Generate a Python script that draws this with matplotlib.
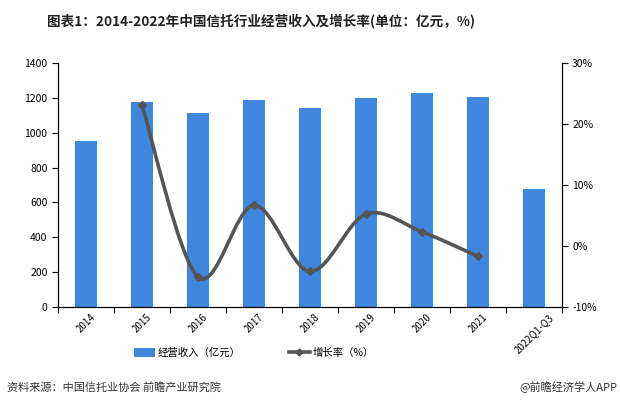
import matplotlib
matplotlib.use("Agg")
import matplotlib.pyplot as plt
from matplotlib.path import Path
from matplotlib.patches import PathPatch, Patch
from matplotlib.lines import Line2D
from matplotlib.ticker import FuncFormatter, FixedLocator

plt.rcParams['font.family'] = ['Noto Sans CJK SC', 'DejaVu Sans']

# data
years = ['2014', '2015', '2016', '2017', '2018', '2019', '2020', '2021', '2022Q1-Q3']
revenue = [954.95, 1176.06, 1116.16, 1190.69, 1140.63, 1200.12, 1228.05, 1207.1, 680.0]
growth_years = ['2015', '2016', '2017', '2018', '2019', '2020', '2021']
growth = [23.15, -5.09, 6.68, -4.20, 5.22, 2.33, -1.71]

bar_color = '#3F86DE'
line_color = '#555555'

fig = plt.figure(figsize=(6.2, 4.09), dpi=100)
ax = fig.add_axes([0.0935, 0.25, 0.8125, 0.595])
ax2 = ax.twinx()

x = list(range(len(years)))
ax.bar(x, revenue, width=0.39, color=bar_color, zorder=2)
ax.set_xlim(-0.5, len(years) - 0.5)
ax.set_ylim(0, 1400)
ax.set_yticks(range(0, 1401, 200))

# category boundary ticks, labels at centres
ax.xaxis.set_major_locator(FixedLocator([i + 0.5 for i in range(-1, len(years))]))
ax.set_xticklabels([])
ax.set_xticks(x, minor=True)
ax.set_xticklabels(years, minor=True, rotation=45, fontsize=7)
ax.tick_params(axis='x', which='minor', length=0, pad=4)
ax.tick_params(axis='x', which='major', length=4, width=0.8)
ax.tick_params(axis='y', labelsize=7.5, length=4, width=0.8)

# smoothed growth line (Catmull-Rom style bezier, like Excel smoothing)
gx = [years.index(y) for y in growth_years]
pts = list(zip(gx, growth))
verts = [pts[0]]
codes = [Path.MOVETO]
for i in range(len(pts) - 1):
    p0 = pts[i - 1] if i > 0 else pts[i]
    p1 = pts[i]
    p2 = pts[i + 1]
    p3 = pts[i + 2] if i + 2 < len(pts) else pts[i + 1]
    c1 = (p1[0] + (p2[0] - p0[0]) / 6, p1[1] + (p2[1] - p0[1]) / 6)
    c2 = (p2[0] - (p3[0] - p1[0]) / 6, p2[1] - (p3[1] - p1[1]) / 6)
    verts += [c1, c2, p2]
    codes += [Path.CURVE4] * 3
ax2.add_patch(PathPatch(Path(verts, codes), facecolor='none', edgecolor=line_color,
                        lw=2.6, zorder=3, capstyle='round'))
ax2.plot(gx, growth, linestyle='none', marker='D', markersize=4.5, color=line_color, zorder=4)
ax2.set_ylim(-10, 30)
ax2.set_yticks(range(-10, 31, 10))
ax2.yaxis.set_major_formatter(FuncFormatter(lambda v, p: f'{v:.0f}%'))
ax2.tick_params(axis='y', labelsize=7.5, length=4, width=0.8)

for a in (ax, ax2):
    a.spines['top'].set_visible(False)
    for s in ('left', 'right', 'bottom'):
        a.spines[s].set_linewidth(0.8)
        a.spines[s].set_color('black')

fig.text(0.076, 0.947, '图表1：2014-2022年中国信托行业经营收入及增长率(单位：亿元，%)',
         fontsize=9.8, fontweight='bold', ha='left', va='center', color='#222222')

handles = [Patch(facecolor=bar_color, edgecolor='none'),
           Line2D([0], [0], color=line_color, lw=2.6, marker='D', markersize=3.5)]
fig.legend(handles, ['经营收入（亿元）', '增长率（%）'], loc='center', bbox_to_anchor=(0.41, 0.137),
           ncol=2, frameon=False, fontsize=7.5, handlelength=2.0, handleheight=0.9,
           columnspacing=4.6, handletextpad=0.3)

fig.text(0.011, 0.052, '资料来源：中国信托业协会 前瞻产业研究院', fontsize=8, ha='left', va='center', color='#333333')
fig.text(0.995, 0.052, '@前瞻经济学人APP', fontsize=8, ha='right', va='center', color='#333333')

fig.savefig('out.png', dpi=100, facecolor='white')
